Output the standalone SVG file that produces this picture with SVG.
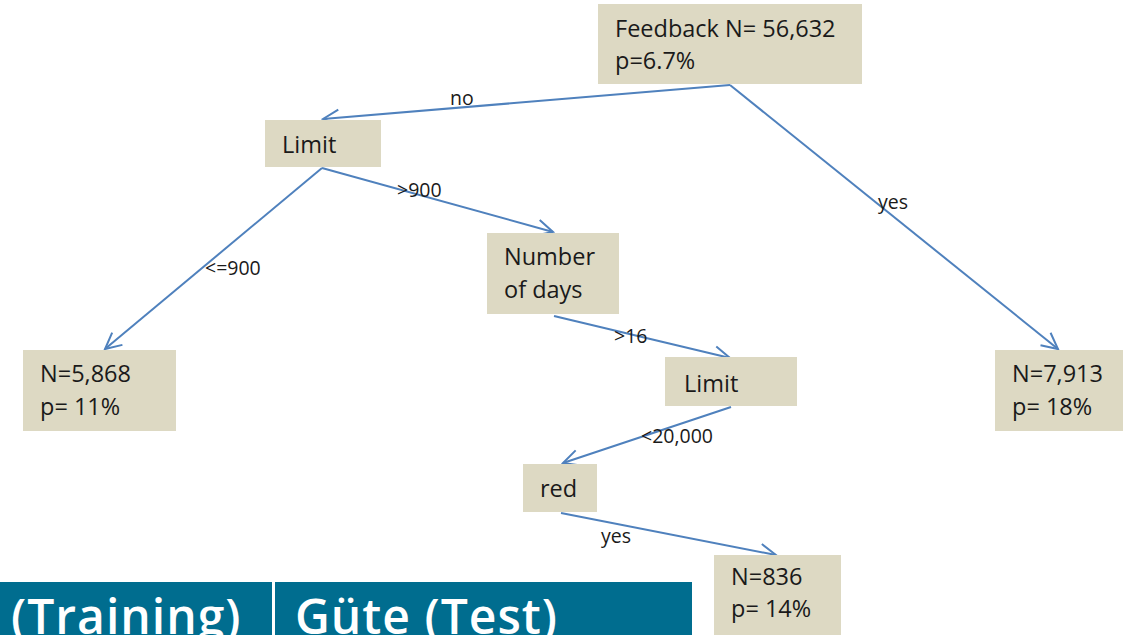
<svg xmlns="http://www.w3.org/2000/svg" width="1132" height="635" viewBox="0 0 1132 635">
<style>
.box{fill:#ddd9c3}
.t{font-family:"Open Sans","Liberation Sans",sans-serif;font-size:23.5px;fill:#1a1a1a}
.l{font-family:"Open Sans","Liberation Sans",sans-serif;font-size:19.5px;fill:#1a1a1a}
.e{stroke:#4f81bd;stroke-width:2;fill:none}
.bt{font-family:"Open Sans",sans-serif;font-weight:600;font-size:48px;letter-spacing:1px;fill:#ffffff}
</style>
<defs>
<marker id="a" viewBox="0 0 20 20" refX="18" refY="10" markerWidth="20" markerHeight="20" markerUnits="userSpaceOnUse" orient="auto">
<path d="M2,2 L18,10 L2,18" fill="none" stroke="#4f81bd" stroke-width="2"/>
</marker>
</defs>
<rect width="1132" height="635" fill="#ffffff"/>
<g id="banner">
<rect x="0" y="582" width="692" height="53" fill="#006d8f"/>
<line x1="273.5" y1="582" x2="273.5" y2="635" stroke="#ffffff" stroke-width="3"/>
<text class="bt" x="11" y="634">(Training)</text>
<text class="bt" x="295" y="634">Güte (Test)</text>
</g>
<g id="connectors">
<line class="e" x1="730" y1="85" x2="323" y2="119" marker-end="url(#a)"/>
<line class="e" x1="730" y1="85" x2="1058" y2="349" marker-end="url(#a)"/>
<line class="e" x1="322" y1="168" x2="105" y2="349" marker-end="url(#a)"/>
<line class="e" x1="322" y1="168" x2="553" y2="232" marker-end="url(#a)"/>
<line class="e" x1="554" y1="316" x2="730" y2="358" marker-end="url(#a)"/>
<line class="e" x1="731" y1="407" x2="563" y2="463" marker-end="url(#a)"/>
<line class="e" x1="561" y1="513" x2="776" y2="555" marker-end="url(#a)"/>
<text class="l" x="450" y="105">no</text>
<text class="l" x="878" y="209">yes</text>
<text class="l" x="205" y="275">&lt;=900</text>
<text class="l" x="397" y="197">&gt;900</text>
<text class="l" x="614" y="343">&gt;16</text>
<text class="l" x="641" y="443">&lt;20,000</text>
<text class="l" x="601" y="543">yes</text>
</g>
<g id="root">
<rect class="box" x="598" y="4" width="264" height="80"/>
<text class="t" x="615" y="37">Feedback N= 56,632</text>
<text class="t" x="615" y="69">p=6.7%</text>
</g>
<g id="limit1">
<rect class="box" x="265" y="120" width="116" height="47"/>
<text class="t" x="282" y="153">Limit</text>
</g>
<g id="days">
<rect class="box" x="487" y="233" width="132" height="81"/>
<text class="t" x="504" y="265">Number</text>
<text class="t" x="504" y="298">of days</text>
</g>
<g id="leaf5868">
<rect class="box" x="23" y="350" width="153" height="81"/>
<text class="t" x="40" y="382">N=5,868</text>
<text class="t" x="40" y="415">p= 11%</text>
</g>
<g id="leaf7913">
<rect class="box" x="995" y="350" width="128" height="81"/>
<text class="t" x="1012" y="382">N=7,913</text>
<text class="t" x="1012" y="415">p= 18%</text>
</g>
<g id="limit2">
<rect class="box" x="665" y="357" width="132" height="49"/>
<text class="t" x="684" y="392">Limit</text>
</g>
<g id="red">
<rect class="box" x="523" y="464" width="74" height="48"/>
<text class="t" x="540" y="497">red</text>
</g>
<g id="leaf836">
<rect class="box" x="714" y="555" width="127" height="80"/>
<text class="t" x="731" y="585">N=836</text>
<text class="t" x="731" y="617">p= 14%</text>
</g>
</svg>
